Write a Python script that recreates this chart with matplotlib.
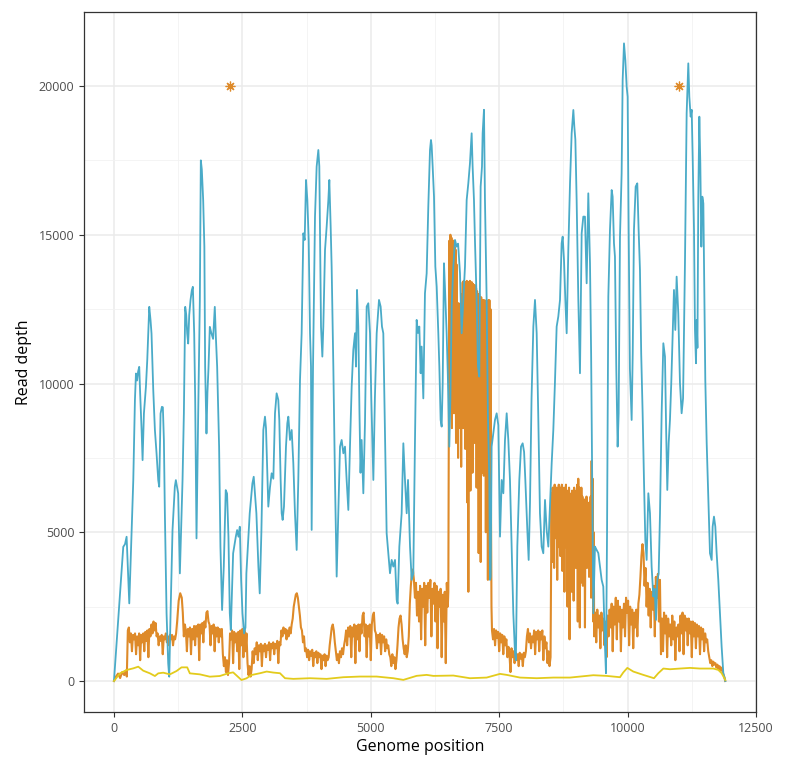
import numpy as np
import matplotlib
matplotlib.use("Agg")
import matplotlib.pyplot as plt

plt.rcParams['font.family'] = ['Open Sans', 'DejaVu Sans']

# blue series (genome position, read depth)
blue_x = [0, 117, 181, 215, 246, 270, 298, 343, 376, 408, 428, 450, 470, 492, 510, 538, 557, 583, 622, 648,
          687, 712, 731, 751, 765, 797, 829, 862, 881, 907, 933, 952, 972, 991, 1024, 1056, 1076, 1102, 1140, 1185,
          1205, 1250, 1283, 1335, 1361, 1387, 1407, 1426, 1445, 1465, 1490, 1516, 1536, 1562, 1581, 1607, 1640, 1672, 1691, 1710,
          1737, 1760, 1775, 1801, 1820, 1840, 1866, 1895, 1930, 1963, 1983, 2009, 2047, 2073, 2105, 2138, 2176, 2202, 2229, 2255,
          2275, 2320, 2372, 2398, 2424, 2450, 2476, 2502, 2534, 2560, 2578, 2643, 2695, 2721, 2773, 2812, 2838, 2870, 2908, 2940,
          2960, 2986, 3005, 3037, 3070, 3103, 3135, 3167, 3199, 3219, 3245, 3265, 3284, 3310, 3349, 3375, 3395, 3427, 3460, 3492,
          3524, 3557, 3589, 3622, 3654, 3687, 3713, 3739, 3765, 3791, 3817, 3836, 3849, 3875, 3914, 3946, 3979, 3998, 4011, 4031,
          4057, 4076, 4109, 4141, 4174, 4193, 4219, 4238, 4271, 4303, 4336, 4368, 4401, 4433, 4466, 4498, 4530, 4563, 4595, 4628,
          4660, 4693, 4712, 4732, 4757, 4780, 4800, 4822, 4855, 4887, 4920, 4952, 4985, 5010, 5050, 5080, 5115, 5160, 5192, 5218,
          5244, 5270, 5309, 5342, 5374, 5407, 5439, 5472, 5504, 5523, 5556, 5601, 5634, 5666, 5699, 5725, 5764, 5796, 5828, 5860,
          5893, 5919, 5945, 5971, 5990, 6023, 6055, 6088, 6120, 6153, 6172, 6185, 6205, 6231, 6257, 6283, 6315, 6335, 6360, 6380,
          6400, 6425, 6445, 6477, 6500, 6529, 6550, 6575, 6607, 6640, 6672, 6700, 6737, 6769, 6802, 6834, 6867, 6899, 6931, 6964,
          6983, 7009, 7030, 7061, 7087, 7113, 7139, 7165, 7178, 7204, 7223, 7256, 7280, 7308, 7321, 7335, 7353, 7386, 7418, 7451,
          7483, 7516, 7549, 7581, 7613, 7646, 7678, 7710, 7743, 7775, 7808, 7825, 7853, 7892, 7925, 7957, 7985, 8009, 8048, 8074,
          8100, 8130, 8165, 8197, 8230, 8260, 8294, 8327, 8359, 8392, 8424, 8457, 8489, 8522, 8554, 8585, 8619, 8651, 8684, 8716,
          8736, 8762, 8788, 8814, 8846, 8879, 8911, 8944, 8963, 8983, 9008, 9041, 9073, 9106, 9138, 9170, 9203, 9235, 9268, 9290,
          9333, 9365, 9397, 9430, 9462, 9495, 9527, 9560, 9579, 9600, 9625, 9657, 9690, 9709, 9735, 9754, 9780, 9806, 9826, 9852,
          9884, 9904, 9930, 9956, 9982, 10001, 10021, 10045, 10079, 10100, 10124, 10157, 10189, 10215, 10241, 10265, 10293, 10319, 10345, 10371,
          10404, 10436, 10468, 10501, 10527, 10553, 10579, 10605, 10631, 10663, 10696, 10728, 10750, 10773, 10800, 10825, 10850, 10877, 10903, 10929,
          10955, 10987, 11020, 11052, 11080, 11117, 11150, 11182, 11202, 11228, 11248, 11267, 11293, 11312, 11332, 11345, 11360, 11377, 11397, 11416,
          11436, 11455, 11475, 11494, 11513, 11540, 11572, 11604, 11637, 11656, 11682, 11708, 11734, 11766, 11799, 11831, 11864, 11903]
blue_y = [0, 2950, 4510, 4600, 4850, 3800, 2610, 4960, 6750, 9440, 10336, 10100, 10400, 10560, 9660, 8430, 7425, 8990, 9890, 10784,
          12576, 12128, 11680, 10560, 9777, 8434, 7650, 6753, 6530, 8990, 9217, 9200, 8100, 5634, 2274, 594, 146, 2274, 5075, 6530,
          6753, 6306, 3618, 6753, 8994, 12576, 12300, 11680, 11344, 12300, 12800, 13136, 13250, 11680, 9500, 4794, 9000, 12800, 17500, 17200,
          16160, 14600, 10560, 8320, 9700, 10500, 11904, 11700, 11500, 12576, 11600, 10560, 7874, 4514, 2386, 3842, 6418, 6300, 4850, 2274,
          1714, 4290, 4850, 5074, 4850, 5186, 3394, 2274, 1600, 1800, 3618, 5634, 6642, 6866, 5634, 3842, 2946, 5000, 8438, 8886,
          8500, 6982, 5862, 6500, 6982, 6800, 8998, 9670, 9450, 8774, 6758, 5638, 5414, 5862, 7878, 8662, 8886, 8102, 8438, 7318,
          5638, 4406, 6758, 10118, 11689, 15049, 14825, 16841, 16169, 14825, 11689, 10569, 5078, 10500, 15609, 17289, 17849, 17300, 15049, 11913,
          10905, 11913, 14489, 15273, 16169, 16841, 15273, 13929, 10569, 6758, 3510, 5638, 7878, 8102, 7654, 7878, 6758, 5750, 7878, 9894,
          11129, 11689, 10569, 13145, 11913, 9000, 7000, 8102, 6310, 8662, 12585, 12697, 11689, 9500, 6758, 9500, 11689, 12809, 12585, 11913,
          11689, 9000, 4966, 4294, 3622, 4070, 3846, 4070, 2726, 2600, 4518, 5638, 7990, 6758, 5638, 6758, 4518, 3398, 3622, 8000,
          12137, 11700, 11913, 10345, 11241, 9500, 13033, 13705, 15945, 17849, 18185, 18000, 17289, 16281, 13929, 13257, 11689, 10569, 8774, 8550,
          10000, 14041, 13200, 11689, 10300, 7878, 9500, 12585, 13929, 14825, 14601, 14700, 13705, 11689, 12809, 13929, 16169, 16729, 17401, 18409,
          17289, 16169, 14700, 12809, 10569, 10233, 16617, 17289, 18409, 19200, 16169, 12809, 9000, 6758, 3398, 3500, 7878, 8326, 8774, 8998,
          8600, 4854, 6758, 6310, 8102, 8998, 8102, 6758, 4518, 2278, 934, 700, 4518, 6758, 7878, 7990, 7700, 6758, 5078, 4070,
          6000, 9500, 11913, 12809, 11689, 9000, 5638, 4518, 4294, 6086, 5078, 4518, 5862, 7318, 8438, 10000, 11913, 12249, 12809, 14713,
          14937, 14153, 12809, 11689, 14489, 16729, 18409, 19193, 18633, 18200, 16169, 12809, 10345, 15049, 15609, 15608, 13368, 16392, 14040, 11000,
          2278, 4518, 4406, 4300, 3846, 3398, 3174, 1158, 262, 5000, 12920, 15160, 16504, 16280, 14712, 14264, 10500, 7878, 9000, 14936,
          17064, 20200, 21432, 20872, 19976, 19640, 15160, 10500, 8774, 11000, 15160, 16616, 16728, 15160, 13816, 11000, 8998, 6758, 4742, 4070,
          6310, 5638, 3846, 2838, 3100, 2054, 3398, 3600, 5638, 8998, 11352, 10904, 8500, 6422, 8000, 8774, 10000, 11576, 13144, 11800,
          13592, 12360, 10008, 9000, 9500, 14040, 19080, 20760, 19640, 18968, 19200, 17624, 15160, 11800, 10680, 12136, 11200, 16280, 18968, 17400,
          14600, 16280, 16056, 12920, 10120, 8000, 6198, 4294, 4070, 5190, 5526, 5190, 4294, 3398, 2278, 1158, 262, 0]

# orange series
orange_x = [0, 40, 80, 120, 160, 200, 230, 250,
            270, 290, 310, 330, 350, 370, 390, 410, 430, 450, 470, 490, 510, 530, 550, 570, 590, 610, 630, 650, 670, 690,
            710, 730, 750, 770, 790, 810, 830, 850, 870, 890, 910, 930, 950, 970, 990, 1010, 1030, 1050, 1070, 1090,
            1110, 1130, 1150, 1170, 1190, 1210, 1230, 1260, 1290, 1320, 1340, 1360, 1380,
            1400, 1420, 1440, 1460, 1480, 1500, 1520, 1540, 1560, 1580, 1600, 1620, 1640, 1660, 1680, 1700, 1720, 1740, 1760, 1780,
            1800, 1820, 1840, 1860, 1880, 1900, 1920, 1940, 1960, 1980, 2000, 2020, 2040, 2060, 2080, 2100,
            2120, 2140, 2160, 2180, 2200, 2220, 2240,
            2260, 2280, 2300, 2320, 2340, 2360, 2380, 2400, 2420, 2440, 2460, 2480, 2500, 2520, 2540, 2560, 2580, 2600,
            2620, 2640, 2660, 2680,
            2700, 2720, 2740, 2760, 2780, 2800, 2820, 2840, 2860, 2880, 2900, 2920, 2940, 2960, 2980, 3000, 3020, 3040, 3060, 3080,
            3100, 3120, 3140, 3160, 3180, 3200, 3220, 3240, 3260, 3280, 3300, 3320, 3340, 3360,
            3380, 3400, 3420, 3440, 3460, 3480, 3500, 3520, 3540, 3560, 3580, 3600, 3620, 3640, 3660, 3680, 3700, 3720,
            3740, 3760, 3780, 3800, 3820, 3840, 3860, 3880, 3900, 3920, 3940, 3960, 3980, 4000, 4020, 4040, 4060, 4080, 4100, 4120,
            4140, 4160, 4180, 4200, 4220, 4240, 4260, 4280, 4300, 4320, 4340,
            4360, 4380, 4400, 4420, 4440, 4460, 4480, 4500, 4520, 4540, 4560, 4580, 4600, 4620, 4640, 4660, 4680, 4700, 4720, 4740,
            4760, 4780, 4800, 4820, 4840, 4860, 4880, 4900, 4920, 4940, 4960, 4980, 5000, 5020, 5040, 5060, 5080, 5100, 5120, 5140,
            5160, 5180, 5200, 5220, 5240, 5260, 5280, 5300, 5320, 5340, 5360, 5380, 5400, 5420, 5440, 5460, 5480, 5500, 5520, 5540,
            5560, 5580, 5600, 5620, 5640, 5660, 5680, 5700, 5720, 5740, 5760, 5780, 5800, 5820, 5840, 5860, 5880, 5900, 5920, 5940,
            5960, 5980, 6000, 6020, 6040, 6060, 6080, 6100, 6120, 6140, 6160, 6180, 6200, 6220, 6240, 6260, 6280, 6300, 6320, 6340,
            6360, 6380, 6400, 6420, 6440, 6460, 6480, 6500,
            6510, 6520, 6530, 6540, 6550, 6560, 6570, 6580, 6590, 6600, 6610, 6620, 6630, 6640, 6650, 6660, 6670, 6680, 6690, 6700,
            6710, 6720, 6730, 6740, 6750, 6760, 6770, 6780, 6790, 6800, 6810, 6820, 6830, 6840, 6850, 6860, 6870, 6880, 6890, 6900,
            6910, 6920, 6930, 6940, 6950, 6960, 6970, 6980, 6990, 7000, 7010, 7020, 7030, 7040, 7050, 7060, 7070, 7080, 7090, 7100,
            7110, 7120, 7130, 7140, 7150, 7160, 7170, 7180, 7190, 7200, 7210, 7220, 7230, 7240, 7250, 7260, 7270, 7280, 7290, 7300,
            7310, 7320, 7330, 7340, 7350,
            7360, 7380, 7400, 7420, 7440, 7460, 7480, 7500, 7520, 7540, 7560, 7580, 7600, 7620, 7640, 7660, 7680, 7700, 7720, 7740,
            7760, 7780, 7800, 7820, 7840, 7860, 7880, 7900, 7920, 7940, 7960, 7980, 8000, 8020, 8040, 8060, 8080, 8100, 8120, 8140,
            8160, 8180, 8200, 8220, 8240, 8260, 8280, 8300, 8320, 8340, 8360, 8380, 8400, 8420, 8440, 8460, 8480, 8500,
            8520, 8530, 8540, 8550, 8560, 8570, 8580, 8590, 8600, 8610, 8620, 8630, 8640, 8650, 8660, 8670, 8680, 8690, 8700, 8710,
            8720, 8730, 8740, 8750, 8760, 8770, 8780, 8790, 8800, 8810, 8820, 8830, 8840, 8850, 8860, 8870, 8880, 8890, 8900, 8910,
            8920, 8930, 8940, 8950, 8960, 8970, 8980, 8990, 9000, 9010, 9020, 9030, 9040, 9050, 9060, 9070, 9080, 9090, 9100, 9110,
            9120, 9130, 9140, 9150, 9160, 9170, 9180, 9190, 9200, 9210, 9220, 9230, 9240, 9250, 9260, 9270, 9280, 9290, 9300, 9310,
            9320, 9330, 9340, 9350,
            9370, 9390, 9410, 9430, 9450, 9470, 9490, 9510, 9530, 9550, 9570, 9590, 9610, 9630, 9650, 9670, 9690, 9710, 9730, 9750,
            9770, 9790, 9810, 9830, 9850, 9870, 9890, 9910, 9930, 9950, 9970, 9990, 10010, 10030, 10050, 10070, 10090, 10110, 10130, 10150,
            10170, 10190, 10210, 10230,
            10250, 10270, 10290, 10310, 10330, 10350, 10370, 10390, 10410, 10430, 10450, 10470, 10490, 10510, 10530, 10550, 10570, 10590, 10610, 10630,
            10650,
            10670, 10690, 10710, 10730, 10750, 10770, 10790, 10810, 10830, 10850, 10870, 10890, 10910, 10930, 10950, 10970, 10990, 11010, 11030, 11050,
            11070, 11090, 11110, 11130, 11150, 11170, 11190, 11210, 11230, 11250, 11270, 11290, 11310, 11330, 11350, 11370, 11390, 11410, 11430, 11450,
            11470, 11490, 11510, 11530, 11550, 11570, 11590, 11610, 11630, 11650, 11670, 11690, 11710, 11730, 11750, 11770, 11790, 11810, 11830, 11850,
            11870, 11890, 11900]
orange_y = [0, 150, 250, 100, 300, 200, 350, 150,
            1700, 1800, 1300, 1600, 1000, 1550, 1400, 1600, 900, 1500, 1200, 1600, 700, 1550, 1300, 1600, 1000, 1650, 1350, 1700, 800, 1750,
            1500, 1900, 1600, 2000, 1700, 1950, 1500, 1600, 1200, 1500, 1350, 1550, 900, 1500, 1400, 1600, 1300, 1500, 1200, 1550,
            1400, 1550, 1200, 1500, 1400, 1600, 2000, 2700, 2950, 2800, 2300, 1500, 1900,
            1700, 1000, 1750, 1500, 1800, 900, 1750, 1400, 1850, 1200, 1850, 1500, 1900, 700, 1900, 1600, 1950, 1300, 2000, 1800,
            2300, 2350, 2000, 1900, 1200, 1850, 1600, 1900, 1000, 1800, 1500, 1800, 1300, 1750, 1500, 1750,
            900, 500, 800, 300, 700, 200, 600,
            1600, 1400, 1700, 600, 1650, 1300, 1600, 1000, 1650, 400, 1700, 1200, 1750, 800, 1700, 1000, 1600, 600,
            200, 500, 150, 400,
            1000, 600, 1100, 900, 1300, 700, 1200, 1000, 1250, 500, 1200, 1000, 1250, 800, 1200, 1050, 1300, 700, 1250, 1100,
            1300, 900, 1250, 1100, 1350, 600, 1300, 1200, 1700, 1500, 1800, 1600, 1750, 1400,
            1700, 1500, 1800, 1600, 1900, 2100, 2500, 2700, 2900, 2950, 2800, 2500, 2200, 1800, 1700, 1300, 1500, 1000,
            1100, 800, 1050, 700, 1000, 850, 1050, 500, 950, 800, 1000, 600, 950, 800, 900, 400, 850, 700, 900, 500,
            850, 700, 800, 1200, 1500, 1800, 1900, 1700, 1300, 1000, 700,
            900, 600, 1000, 800, 1100, 900, 1200, 1400, 1700, 1200, 1800, 1500, 1850, 800, 1800, 1500, 1900, 600, 1850, 1400,
            1900, 1000, 1900, 1600, 2200, 2300, 1500, 1900, 800, 1850, 1500, 1900, 700, 1900, 2200, 2300, 1700, 1600, 1100, 1550,
            1300, 1600, 900, 1550, 1300, 1500, 1000, 1400, 1100, 1200, 900, 800, 500, 900, 600, 800, 400, 700, 1200, 1800,
            2100, 2200, 1900, 1400, 1100, 900, 1200, 800, 1000, 1500, 2600, 3200, 3600, 3750, 3400, 2800, 3300, 2200, 3000, 2000,
            3200, 1400, 3100, 2500, 3300, 1200, 3200, 2300, 3300, 2800, 3400, 1500, 3100, 2600, 3300, 2000, 3200, 1100, 3000, 2500,
            3100, 800, 2900, 2000, 3000, 600, 3300, 2500,
            3000, 9000, 14800, 9500, 15000, 11000, 14900, 8500, 14700, 10500, 14800, 9000, 14600, 11000, 14500, 8000, 14000, 10000, 12600, 7500,
            12700, 9500, 12600, 8500, 12500, 7200, 13000, 9800, 13400, 8500, 13450, 10500, 13400, 7800, 13400, 9500, 13450, 6000, 13400, 3000,
            13400, 9000, 13450, 6400, 13400, 10000, 13400, 7000, 13350, 9500, 13300, 8000, 13300, 10500, 13200, 6500, 13100, 9000, 13000, 4300,
            13000, 8500, 12900, 4000, 12900, 9500, 12800, 7000, 12800, 6900, 12800, 9000, 12700, 5000, 12800, 8000, 12700, 3400, 12800, 7000,
            12800, 3500, 12500, 6000, 2500,
            1700, 1400, 1750, 1200, 1700, 1450, 1650, 1000, 1600, 1300, 1550, 900, 1500, 1200, 1400, 800, 1150, 900, 300, 1100,
            800, 1000, 600, 950, 700, 900, 500, 950, 750, 900, 500, 950, 800, 1000, 1500, 1750, 1300, 1600, 1100, 1500,
            1300, 1700, 900, 1650, 1400, 1700, 1000, 1650, 1400, 1700, 700, 1500, 1100, 1300, 600, 1000, 500, 800,
            6300, 4000, 6500, 5000, 6400, 3800, 6600, 4800, 6400, 5200, 6500, 3400, 6300, 4500, 6600, 5000, 6400, 4200, 6500, 5500,
            6600, 3700, 6500, 4800, 6400, 3000, 6500, 4500, 6600, 5200, 6400, 2500, 6300, 4000, 6500, 1400, 6300, 4600, 6200, 3000,
            6400, 5000, 6300, 2700, 6500, 4500, 6200, 3800, 6400, 5000, 6600, 2000, 6800, 4200, 6500, 1800, 6300, 3300, 6500, 4500,
            6200, 3200, 6000, 4800, 6100, 1800, 6000, 4200, 6200, 3800, 6000, 4600, 5800, 3500, 6000, 4000, 6200, 2800, 7400, 3500,
            6800, 2000, 5000, 1500,
            2300, 1300, 2400, 1800, 2200, 1100, 2300, 1700, 2100, 1200, 2000, 800, 2200, 1500, 2400, 1800, 2600, 1000, 2500, 1900,
            2800, 1400, 2700, 2000, 2500, 1000, 2400, 1800, 2600, 1500, 2800, 2300, 2700, 1200, 2500, 1900, 2400, 1100, 2300, 1800,
            2400, 1500, 2600, 2900,
            3500, 4200, 4600, 4300, 3200, 3800, 2500, 3300, 2200, 3100, 1800, 3000, 2400, 3200, 1500, 3500, 2800, 3600, 2000, 3400,
            900,
            2100, 1000, 2300, 1600, 2200, 800, 2100, 1500, 1900, 1200, 2200, 1400, 2000, 700, 1800, 1500, 1900, 1000, 2200, 1600,
            2300, 900, 2200, 1700, 2100, 1200, 2100, 1600, 2000, 800, 2000, 1500, 1950, 1100, 1900, 1500, 1850, 900, 1800, 1400,
            1750, 1000, 1600, 1300, 1400, 1000, 800, 600, 700, 500, 650, 550, 600, 450, 550, 400, 500, 350, 450, 300,
            200, 100, 0]

# yellow series
yellow_x = [0, 117, 246, 376, 473, 570, 700, 797, 862, 959, 1089, 1218, 1315, 1426, 1477, 1672, 1866, 2060, 2222, 2320,
            2398, 2482, 2580, 2677, 2843, 2973, 3103, 3232, 3330, 3492, 3817, 4141, 4466, 4790, 5115, 5439, 5634, 5893, 6088, 6218,
            6607, 6931, 7256, 7516, 7646, 7905, 8230, 8554, 8879, 9203, 9333, 9592, 9852, 9917, 9995, 10111, 10306, 10514, 10598, 10696,
            10825, 11020, 11215, 11409, 11669, 11766, 11831, 11903]
yellow_y = [0, 258, 370, 426, 482, 347, 258, 168, 258, 280, 224, 336, 459, 459, 258, 224, 146, 168, 258, 291,
            168, 34, 90, 202, 262, 318, 284, 262, 94, 72, 94, 72, 128, 150, 150, 94, 38, 174, 206, 172,
            184, 94, 116, 240, 206, 116, 94, 116, 116, 172, 195, 172, 128, 290, 441, 318, 206, 94, 262, 419,
            396, 419, 441, 419, 419, 374, 262, 34]

# marked positions
star_x = [2250, 11000]
star_y = [20000, 20000]

fig = plt.figure(figsize=(7.87, 7.69), dpi=100)
ax = fig.add_axes([0.1067, 0.0741, 0.8539, 0.9103])

ax.plot(orange_x, orange_y, color='#DE8A29', lw=1.5, zorder=3)
ax.plot(blue_x, blue_y, color='#4AABC8', lw=1.3, zorder=4)
ax.plot(yellow_x, yellow_y, color='#E3CB1C', lw=1.3, zorder=5)
ax.plot(star_x, star_y, linestyle='none', marker=(8, 2, 0), markersize=7,
        markeredgewidth=0.9, color='#DE8A29', zorder=6)

ax.set_xlim(-584, 12500)
ax.set_ylim(-1042, 22487)
ax.set_xticks(np.arange(0, 12501, 2500))
ax.set_yticks(np.arange(0, 20001, 5000))
ax.set_xticks(np.arange(1250, 12500, 2500), minor=True)
ax.set_yticks(np.arange(2500, 22000, 5000), minor=True)
ax.grid(True, which='major', color='#EBEBEB', lw=1.1)
ax.grid(True, which='minor', color='#F2F2F2', lw=0.6)
ax.set_axisbelow(True)
ax.tick_params(which='major', length=3.5, width=0.8, color='#333333',
               labelsize=9, labelcolor='#4D4D4D')
ax.tick_params(which='minor', length=0)
for s in ax.spines.values():
    s.set_color('#333333')
    s.set_linewidth(0.9)

ax.set_xlabel('Genome position', fontsize=11.5, labelpad=3)
ax.set_ylabel('Read depth', fontsize=11.5, labelpad=5)

fig.savefig('out.png', dpi=100)
